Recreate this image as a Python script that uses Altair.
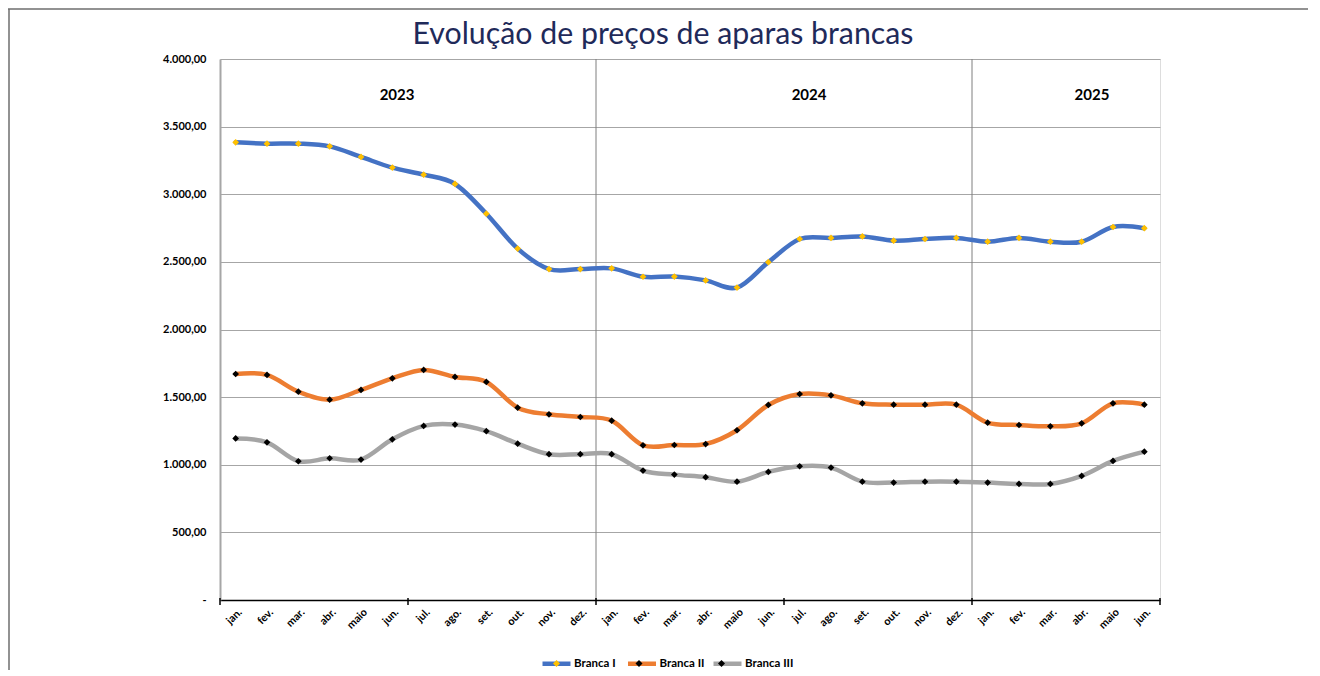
import altair as alt
import pandas as pd

# ---------------- data ----------------
months = ["jan.", "fev.", "mar.", "abr.", "maio", "jun.", "jul.", "ago.", "set.", "out.", "nov.", "dez."]
series_names = ["Branca I", "Branca II", "Branca III"]

branca_1 = [3384, 3374, 3374, 3354, 3276, 3197, 3145, 3076, 2856, 2598, 2447, 2447,
            2452, 2390, 2391, 2363, 2310, 2498, 2669, 2677, 2688, 2657, 2669, 2677,
            2649, 2677, 2649, 2649, 2758, 2749]
branca_2 = [1671, 1664, 1540, 1481, 1553, 1639, 1701, 1649, 1612, 1422, 1373, 1353,
            1326, 1144, 1146, 1153, 1255, 1442, 1523, 1513, 1454, 1444, 1444, 1444,
            1311, 1294, 1284, 1306, 1454, 1444]
branca_3 = [1195, 1166, 1026, 1048, 1038, 1188, 1287, 1297, 1248, 1156, 1078, 1078,
            1078, 957, 927, 908, 875, 947, 989, 979, 875, 868, 875, 875,
            868, 858, 858, 917, 1028, 1097]

year_names = ["2023", "2024", "2025"]
year_label_x = [5.65, 18.8, 27.83]     # position on the month axis
year_label_y = [3735, 3735, 3735]
year_bounds = [12, 24]
tick_positions = [0, 6, 12, 18, 24, 30]

line_colors = ["#4472C4", "#ED7D31", "#A5A5A5"]
marker_colors = ["#FFC000", "#000000", "#000000"]

# ---------------- tables ----------------
rows = []
for name, vals in zip(series_names, [branca_1, branca_2, branca_3]):
    for i, v in enumerate(vals):
        rows.append({"pos": i + 0.5, "value": v, "series": name, "marker": name})
df = pd.DataFrame(rows)
years_df = pd.DataFrame({"x": year_label_x, "y": year_label_y, "label": year_names})
bounds_df = pd.DataFrame({"x": year_bounds})
ticks_df = pd.DataFrame({"x": tick_positions})
one = pd.DataFrame({"a": [0]})

W, H = 940, 541
FONT = "Lato"
LEG_X, LEG_Y = 320, 588
LINE_PAD = -4.5
FILL_PAD = 48.5

month_arr = "[" + ",".join("'" + m + "'" for m in months) + "]"

x_scale = alt.Scale(domain=[0, 30], nice=False, zero=False)
y_scale = alt.Scale(domain=[0, 4000], nice=False)

x_axis = alt.Axis(
    values=[i + 0.5 for i in range(30)],
    labelExpr=month_arr + "[floor(datum.value) % 12]",
    labelAngle=315, labelFontSize=10.8, labelFont=FONT, labelFontWeight="bold", labelColor="#000000",
    labelPadding=6, labelOverlap=False, labelSeparation=0, ticks=False, grid=False,
    domainColor="#000000", domainWidth=1.5, title=None,
)
y_axis = alt.Axis(
    values=list(range(0, 4001, 500)),
    labelExpr="datum.value == 0 ? '-' : replace(replace(replace(format(datum.value, ',.2f'), ',', 'X'), '.', ','), 'X', '.')",
    labelFontSize=11, labelFontWeight="bold", labelFont=FONT, labelColor="#000000",
    labelPadding=14, ticks=False, grid=True, gridColor="#A6A6A6", gridWidth=1.2,
    domainColor="#A6A6A6", domainWidth=2, title=None,
)

base = alt.Chart(df)

lines = base.mark_line(interpolate="cardinal", strokeWidth=4.5, strokeCap="round").encode(
    x=alt.X("pos:Q", scale=x_scale, axis=x_axis),
    y=alt.Y("value:Q", scale=y_scale, axis=y_axis),
    color=alt.Color("series:N", scale=alt.Scale(domain=series_names, range=line_colors),
                    legend=alt.Legend(orient="none", legendX=LEG_X, legendY=LEG_Y, direction="horizontal",
                                      title=None, symbolType="stroke", symbolSize=784,
                                      symbolStrokeWidth=4.5, labelFont=FONT, labelFontSize=11.5,
                                      labelFontWeight="bold", labelColor="#000000", gridAlign="all",
                                      columnPadding=LINE_PAD, labelOffset=1, padding=0)),
    detail="series:N",
)

points = base.mark_point(shape="diamond", filled=True, size=45, opacity=1).encode(
    x=alt.X("pos:Q", scale=x_scale, axis=x_axis),
    y=alt.Y("value:Q", scale=y_scale, axis=y_axis),
    fill=alt.Fill("marker:N", scale=alt.Scale(range=marker_colors),
                  legend=alt.Legend(orient="none", legendX=LEG_X, legendY=LEG_Y, direction="horizontal",
                                    title=None, symbolType="M0,-0.25L0.25,0L0,0.25L-0.25,0Z",
                                    symbolSize=784, symbolStrokeWidth=4.5, symbolStrokeColor="transparent",
                                    symbolOpacity=1, labelExpr="''", labelFontSize=11.5, gridAlign="all",
                                    columnPadding=FILL_PAD, labelOffset=1, padding=0)),
)

vgrid = alt.Chart(bounds_df).mark_rule(color="#7F7F7F", strokeWidth=1).encode(
    x=alt.X("x:Q", scale=x_scale, axis=x_axis), y=alt.value(0), y2=alt.value(H)
)

xticks = alt.Chart(ticks_df).mark_rule(color="#000000", strokeWidth=1.5).encode(
    x=alt.X("x:Q", scale=x_scale, axis=x_axis), y=alt.value(H - 2), y2=alt.value(H + 5)
)

year_text = alt.Chart(years_df).mark_text(font=FONT, fontSize=15, fontWeight="bold", color="#000000").encode(
    x=alt.X("x:Q", scale=x_scale, axis=x_axis), y=alt.Y("y:Q", scale=y_scale, axis=y_axis), text="label:N"
)

border_top = alt.Chart(one).mark_rule(color="#6E6E6E", strokeWidth=1.5).encode(
    x=alt.value(-212), x2=alt.value(1090), y=alt.value(-50)
)
border_left = alt.Chart(one).mark_rule(color="#6E6E6E", strokeWidth=1.5).encode(
    x=alt.value(-211), y=alt.value(-50), y2=alt.value(615)
)

chart = alt.layer(
    vgrid, lines, points, xticks, year_text, border_top, border_left
).properties(
    width=W, height=H,
    autosize=alt.AutoSizeParams(type="none"),
    padding={"left": 212, "top": 51, "right": 148, "bottom": 70},
    title=alt.TitleParams("Evolução de preços de aparas brancas", font=FONT, fontSize=30.3,
                          fontWeight="normal", color="#1F2A5A", anchor="middle", dx=-27, dy=47, offset=5),
).resolve_scale(color="independent", fill="independent").configure_view(
    stroke=None
).configure_axisX(labelOverlap=False).configure(background="white")

chart.save("out.html", embed_options={"renderer": "svg", "actions": False})
